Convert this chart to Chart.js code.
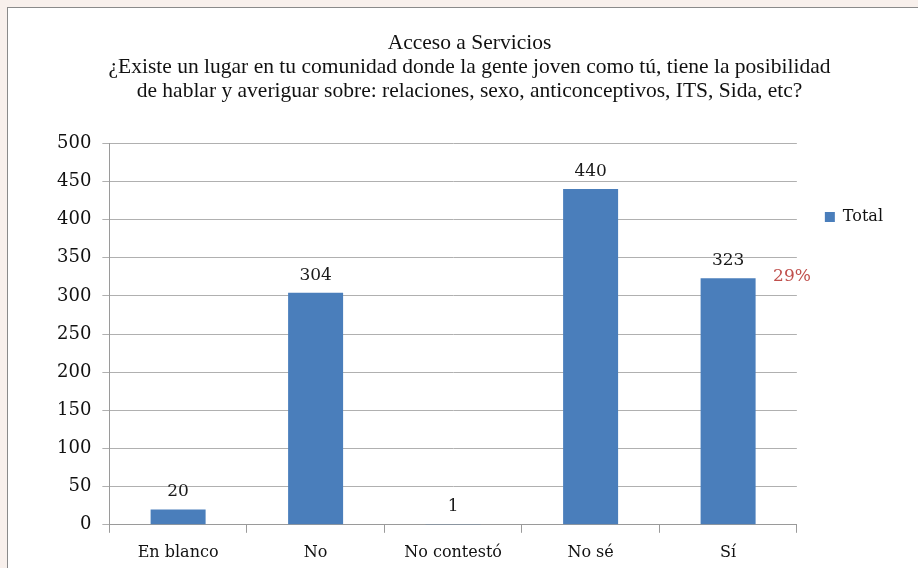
<!DOCTYPE html>
<html><head><meta charset="utf-8">
<script src="https://cdn.jsdelivr.net/npm/chart.js@4/dist/chart.umd.min.js"></script>
<style>
html,body{margin:0;padding:0;background:#f8f0ec;overflow:hidden;width:918px;height:568px}
#wrap{position:absolute;left:7px;top:7px;width:920px;height:575px;border:1.5px solid #8a8a8a;background:#fff}
canvas{display:block}
</style></head><body>
<div id="wrap"><canvas id="c" width="920" height="575"></canvas></div>
<script>
const categories = ["En blanco","No","No contestó","No sé","Sí"];
const totalValues = [20,304,1,440,323];
const yTicks = [0,50,100,150,200,250,300,350,400,450,500];
const titleLines = ["Acceso a Servicios","¿Existe un lugar en tu comunidad donde la gente joven como tú, tiene la posibilidad","de hablar y averiguar sobre: relaciones, sexo, anticonceptivos, ITS, Sida, etc?"];
const noteText = "29%";

const serif = "'DejaVu Serif', serif";
const labelPlugin = {
  id:'labels',
  afterDatasetsDraw(chart){
    const ctx = chart.ctx;
    const meta = chart.getDatasetMeta(0);
    ctx.save();
    ctx.font = "17px " + serif;
    ctx.fillStyle = "#1a1a1a";
    ctx.textAlign = "center";
    ctx.textBaseline = "bottom";
    meta.data.forEach((bar,i)=>{
      ctx.fillText(String(totalValues[i]), bar.x, bar.y - 9);
    });
    const last = meta.data[meta.data.length-1];
    ctx.fillStyle = "#c0504d";
    ctx.font = "17px " + serif;
    ctx.textAlign = "left";
    ctx.textBaseline = "middle";
    ctx.fillText(noteText, last.x + 45, last.y - 2);
    ctx.restore();
  }
};

new Chart(document.getElementById('c'),{
  type:'bar',
  data:{labels:categories,datasets:[{label:'Total',data:totalValues,backgroundColor:'#4a7ebb',barPercentage:0.4,categoryPercentage:1.0}]},
  options:{
    responsive:false,animation:false,
    layout:{padding:{left:38,right:35,top:0,bottom:11}},
    plugins:{
      title:{display:true,text:titleLines,color:'#111',font:{family:"'Liberation Serif', serif",size:21.5,weight:'normal',lineHeight:1.12},padding:{top:23,bottom:40}},
      legend:{position:'right',align:'start',
        title:{display:true,text:' ',padding:{top:161},font:{size:10}},
        labels:{boxWidth:10,boxHeight:10,color:'#111',font:{family:serif,size:16},padding:28}},
      tooltip:{enabled:false}
    },
    scales:{
      x:{grid:{display:true,drawOnChartArea:false,offset:true,tickLength:8,color:'#9a9a9a'},
         border:{display:true,color:'#9a9a9a'},
         ticks:{color:'#111',font:{family:serif,size:16},padding:10}},
      y:{min:0,max:500,afterBuildTicks(ax){ax.ticks=yTicks.map(v=>({value:v}));},
         grid:{color:'#b0b0b0',tickLength:7},
         border:{display:true,color:'#9a9a9a'},
         ticks:{color:'#111',font:{family:serif,size:18},padding:11}}
    }
  },
  plugins:[labelPlugin]
});
</script></body></html>
